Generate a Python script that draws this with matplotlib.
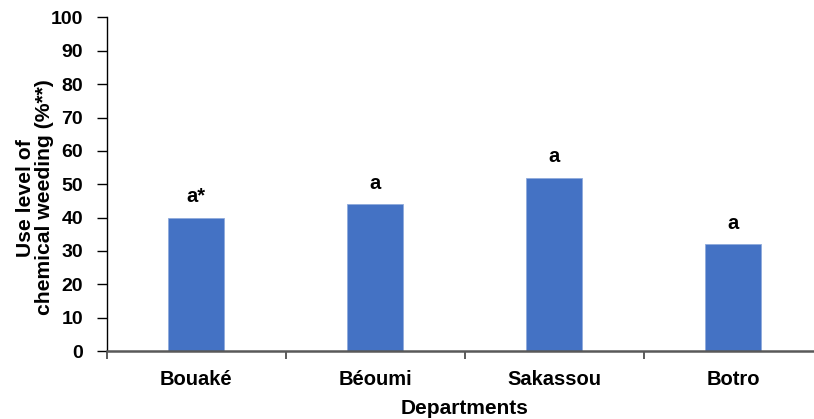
import matplotlib.pyplot as plt

departments = ['Bouaké', 'Béoumi', 'Sakassou', 'Botro']
use_level = [40, 44, 52, 32]
letters = ['a*', 'a', 'a', 'a']

plt.rcParams['font.family'] = ['Liberation Sans', 'DejaVu Sans']
plt.rcParams['font.weight'] = 'bold'

fig = plt.figure(figsize=(8.14, 4.19), dpi=100)
W, H = 814, 419
x0, x1 = 106.5, 822.5
y0, y1 = 351, 17.5
ax = fig.add_axes([x0 / W, (H - y0) / H, (x1 - x0) / W, (y0 - y1) / H])

xs = range(len(departments))
ax.bar(xs, use_level, width=0.31, color='#4472C4', edgecolor='#8FAADC', linewidth=0.6, zorder=2)
for x, v, t in zip(xs, use_level, letters):
    ax.text(x, v + 3.5, t, ha='center', va='bottom', fontsize=14.5, fontweight='bold')

ax.set_xlim(-0.5, len(departments) - 0.5)
ax.set_ylim(0, 100)
ax.set_yticks(range(0, 101, 10))
ax.set_xticks(xs)
ax.set_xticklabels(departments, fontsize=14.5, fontweight='bold')
ax.set_xticks([i + 0.5 for i in range(-1, len(departments))], minor=True)
ax.tick_params(axis='x', which='major', length=0, pad=14)
ax.tick_params(axis='x', which='minor', length=6, width=1.2, color='#404040', direction='out')
ax.tick_params(axis='y', length=7, width=1, direction='out', labelsize=14, pad=10)
for lab in ax.get_yticklabels():
    lab.set_fontweight('bold')

for s in ['top', 'right']:
    ax.spines[s].set_visible(False)
ax.spines['left'].set_color('black')
ax.spines['left'].set_linewidth(1)
ax.spines['bottom'].set_color('#595959')
ax.spines['bottom'].set_linewidth(1.8)

ax.set_xlabel('Departments', fontsize=15, fontweight='bold', labelpad=7)
ax.set_ylabel('Use level of\nchemical weeding (%**)', fontsize=15.2, fontweight='bold',
              linespacing=1.0, va='center', ha='center')
ax.yaxis.set_label_coords(-0.1, 0.46)

fig.savefig('out.png', dpi=100)
